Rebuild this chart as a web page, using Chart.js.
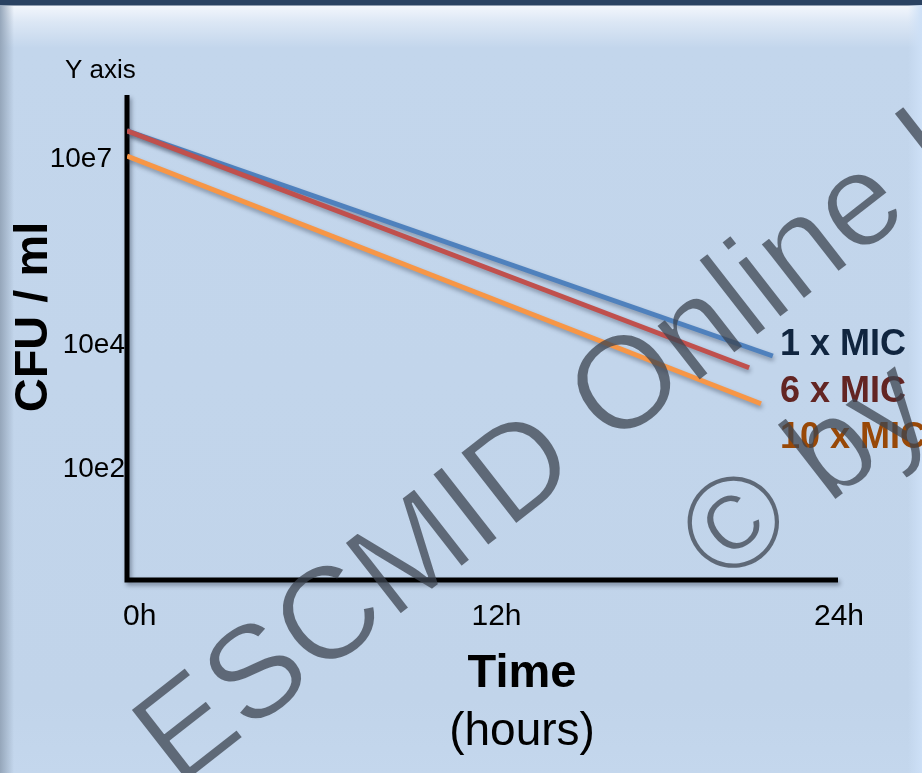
<!DOCTYPE html>
<html>
<head>
<meta charset="utf-8">
<title>CFU / ml over time</title>
<script src="https://cdn.jsdelivr.net/npm/chart.js@4.4.1/dist/chart.umd.min.js"></script>
<style>
  html, body { margin: 0; padding: 0; }
  body {
    width: 922px; height: 773px; overflow: hidden; position: relative;
    background: linear-gradient(to bottom, #2a4262 0px, #2a4262 5px, #f2f6fc 6px, #dce7f5 22px, #c3d6ec 48px, #c1d4ea 700px, #c4d7ed 773px);
  }
  #edgeL { position: absolute; left: 0; top: 5px; width: 14px; height: 768px; background: linear-gradient(to right, #95a6ba, rgba(193,212,234,0)); }
  #edgeR { position: absolute; right: 0; top: 5px; width: 14px; height: 768px; background: linear-gradient(to left, #cde0f7, rgba(193,212,234,0)); }
  canvas { position: absolute; left: 0; top: 0; }
</style>
</head>
<body>
<div id="edgeL"></div>
<div id="edgeR"></div>
<canvas id="chartKill" width="922" height="773"></canvas>
<script>
// valores (eixo y em log10 de CFU/ml, eixo x em horas)
const seriesNames = ['1 x MIC', '6 x MIC', '10 x MIC'];
const lineColors = ['#4F81BD', '#C0504D', '#F79646'];
const labelColors = ['#10253F', '#632523', '#984807'];
const hoursStart = [0, 0, 0];
const hoursEnd = [21.8, 21.0, 21.4];
const logCfuStart = [7.44, 7.44, 7.03];
const logCfuEnd = [3.81, 3.62, 3.04];

const xTickValues = [0, 12, 24];
const xTickLabels = ['0h', '12h', '24h'];
const yTickValues = [7, 4, 2];
const yTickLabels = ['10e7', '10e4', '10e2'];

const FONT = "'Liberation Sans', Arial, sans-serif";

const datasets = seriesNames.map((name, i) => ({
  label: name,
  data: [{ x: hoursStart[i], y: logCfuStart[i] }, { x: hoursEnd[i], y: logCfuEnd[i] }],
  borderColor: lineColors[i],
  borderWidth: 5,
  pointRadius: 0,
  tension: 0,
  fill: false,
  order: i === 0 ? 2 : (i === 1 ? 1 : 0)
}));

// marca d'agua desenhada num canvas auxiliar, com traço um pouco afinado
function drawWatermark(ctx) {
  const off = document.createElement('canvas');
  off.width = ctx.canvas.width;
  off.height = ctx.canvas.height;
  const o = off.getContext('2d');
  const ang = -38 * Math.PI / 180;
  const lines = [
    { text: 'ESCMID Online Lecture Library', x: 178, y: 788 },
    { text: '\u00A9 by author', x: 723, y: 588 }
  ];
  o.font = '132px ' + FONT;
  o.textAlign = 'left';
  o.fillStyle = 'rgb(60,68,80)';
  o.lineWidth = 1.8;
  o.lineJoin = 'round';
  lines.forEach(l => {
    o.save();
    o.translate(l.x, l.y);
    o.rotate(ang);
    o.globalCompositeOperation = 'source-over';
    o.fillText(l.text, 0, 0);
    o.globalCompositeOperation = 'destination-out';
    o.strokeText(l.text, 0, 0);
    o.restore();
  });
  ctx.save();
  ctx.globalAlpha = 0.75;
  ctx.drawImage(off, 0, 0);
  ctx.restore();
}

// desenha eixos, textos e marca d'agua
const slidePlugin = {
  id: 'slidePlugin',
  beforeDatasetsDraw(chart) {
    const { ctx, chartArea } = chart;
    ctx.save();
    ctx.shadowColor = 'rgba(40,50,70,0.45)';
    ctx.shadowBlur = 4;
    ctx.shadowOffsetX = 2;
    ctx.shadowOffsetY = 3;
    ctx.strokeStyle = '#000';
    ctx.lineWidth = 5;
    ctx.beginPath();
    ctx.moveTo(chartArea.left, chartArea.top - 1);
    ctx.lineTo(chartArea.left, chartArea.bottom + 2);
    ctx.moveTo(chartArea.left - 2.5, chartArea.bottom);
    ctx.lineTo(chartArea.right, chartArea.bottom);
    ctx.stroke();
    ctx.restore();
  },
  beforeDatasetDraw(chart) {
    const ctx = chart.ctx;
    ctx.save();
    ctx.shadowColor = 'rgba(40,50,70,0.4)';
    ctx.shadowBlur = 4;
    ctx.shadowOffsetX = 1;
    ctx.shadowOffsetY = 3;
  },
  afterDatasetDraw(chart) {
    chart.ctx.restore();
  },
  afterDraw(chart) {
    const { ctx, chartArea } = chart;
    const xs = chart.scales.x, ys = chart.scales.y;
    ctx.save();
    ctx.fillStyle = '#000';

    // rotulos do eixo y
    ctx.font = '28px ' + FONT;
    ctx.textAlign = 'right';
    ctx.textBaseline = 'middle';
    yTickValues.forEach((v, i) => {
      const dx = i === 0 ? 15 : 2;
      ctx.fillText(yTickLabels[i], chartArea.left - dx, ys.getPixelForValue(v) + 1);
    });

    // rotulos do eixo x
    ctx.font = '30px ' + FONT;
    ctx.textBaseline = 'alphabetic';
    xTickValues.forEach((v, i) => {
      ctx.textAlign = i === 0 ? 'left' : 'center';
      const px = xs.getPixelForValue(v);
      ctx.fillText(xTickLabels[i], i === 0 ? px - 4 : px + (i === 1 ? 14 : 1), chartArea.bottom + 45);
    });

    // titulos
    ctx.font = '26px ' + FONT;
    ctx.textAlign = 'left';
    ctx.fillText('Y axis', 65, 78);

    ctx.font = 'bold 47px ' + FONT;
    ctx.textAlign = 'center';
    ctx.fillText('Time', 522, 687);
    ctx.font = '46px ' + FONT;
    ctx.fillText('(hours)', 522, 745);

    ctx.save();
    ctx.translate(47, 317);
    ctx.rotate(-Math.PI / 2);
    ctx.font = 'bold 47px ' + FONT;
    ctx.textAlign = 'center';
    ctx.fillText('CFU / ml', 0, 0);
    ctx.restore();

    // legenda ao lado das linhas
    ctx.font = 'bold 36px ' + FONT;
    ctx.textAlign = 'left';
    seriesNames.forEach((name, i) => {
      ctx.fillStyle = labelColors[i];
      ctx.fillText(name, 780, 355 + i * 46.5);
    });
    ctx.restore();

    drawWatermark(ctx);
  }
};

document.addEventListener('DOMContentLoaded', function () {
  const el = document.getElementById('chartKill');
  new Chart(el, {
    type: 'line',
    data: { datasets: datasets },
    options: {
      responsive: false,
      animation: false,
      layout: { padding: { left: 127, right: 84, top: 96, bottom: 193 } },
      plugins: { legend: { display: false }, tooltip: { enabled: false } },
      scales: {
        x: { type: 'linear', display: false, min: 0, max: 24 },
        y: { type: 'linear', display: false, min: 0.2, max: 8 }
      }
    },
    plugins: [slidePlugin]
  });
});
</script>
</body>
</html>
